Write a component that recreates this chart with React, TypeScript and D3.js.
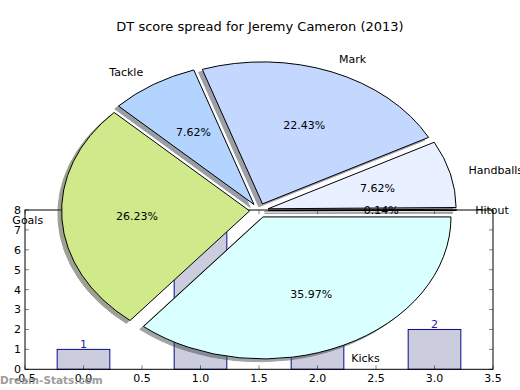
import React from 'react';
import * as d3 from 'd3';

// pie: DT score share per stat (counter-clockwise from 3 o'clock)
const sliceNames = ['Hitout', 'Handballs', 'Mark', 'Tackle', 'Goals', 'Kicks'];
const sliceShares = [0.14, 7.62, 22.43, 7.62, 26.23, 35.97];
const sliceColors = ['#dcdcdc', '#e9f0ff', '#c4d7ff', '#b3d4ff', '#d0e98b', '#d9ffff'];

// bars behind the pie
const barPositions = [0, 1, 2, 3];
const barCounts = [1, 8, 5, 2];

const xTicks = [-0.5, 0, 0.5, 1, 1.5, 2, 2.5, 3, 3.5];
const yTicks = [0, 1, 2, 3, 4, 5, 6, 7, 8];

const W = 520;
const H = 390;
const font = '"DejaVu Sans", Verdana, sans-serif';

export default function App() {
  const plot = { left: 25, right: 493, top: 210, bottom: 369.3 };
  const x = d3.scaleLinear().domain([-0.5, 3.5]).range([plot.left, plot.right]);
  const y = d3.scaleLinear().domain([0, 8]).range([plot.bottom, plot.top]);
  const barWidth = 0.45;

  // pie drawn as an ellipse (non-equal aspect)
  const cx = 259, cy = 210.5, rx = 188, ry = 142;
  const explode = 0.05;
  const R = 100;
  const pie = d3.pie<number>().sort(null).value(d => d)
    .startAngle(Math.PI / 2).endAngle(Math.PI / 2 - 2 * Math.PI);
  const arcs = pie(sliceShares);
  const arc = d3.arc<d3.PieArcDatum<number>>().innerRadius(0).outerRadius(R);
  const total = d3.sum(sliceShares);

  const wedges = arcs.map((a, i) => {
    const theta = Math.PI / 2 - (a.startAngle + a.endAngle) / 2;
    const c = Math.cos(theta), s = Math.sin(theta);
    const ox = cx + explode * rx * c;
    const oy = cy - explode * ry * s;
    const shade = d3.rgb(sliceColors[i]);
    const shadow = d3.rgb(shade.r * 0.3, shade.g * 0.3, shade.b * 0.3).toString();
    return {
      path: arc(a) as string,
      ox, oy, c, s, shadow,
      color: sliceColors[i],
      name: sliceNames[i],
      pct: (100 * a.value / total).toFixed(2) + '%',
    };
  });

  return (
    <svg width={W} height={H} style={{ position: 'absolute', left: 0, top: 0, background: '#fff' }}
      fontFamily={font}>
      <rect width={W} height={H} fill="#fff" />

      {/* bars */}
      {barPositions.map((p, i) => (
        <rect key={'b' + i} x={x(p - barWidth / 2)} y={y(barCounts[i])}
          width={x(p + barWidth / 2) - x(p - barWidth / 2)} height={plot.bottom - y(barCounts[i])}
          fill="#ccccdf" stroke="#0a0a8c" strokeWidth={1} />
      ))}
      {barPositions.map((p, i) => (
        <text key={'bl' + i} x={x(p)} y={y(barCounts[i]) - 1} textAnchor="middle"
          fontSize={11} fill="#2020a8">{barCounts[i]}</text>
      ))}

      {/* frame + ticks */}
      <rect x={plot.left} y={plot.top} width={plot.right - plot.left} height={plot.bottom - plot.top}
        fill="none" stroke="#000" strokeWidth={1} />
      {xTicks.map(t => (
        <g key={'xt' + t}>
          <line x1={x(t)} x2={x(t)} y1={plot.bottom} y2={plot.bottom - 4} stroke="#000" strokeWidth={0.5} />
          <line x1={x(t)} x2={x(t)} y1={plot.top} y2={plot.top + 4} stroke="#000" strokeWidth={0.5} />
          <text x={x(t)} y={plot.bottom + 13} textAnchor="middle" fontSize={11} fill="#000">{t.toFixed(1)}</text>
        </g>
      ))}
      {yTicks.map(t => (
        <g key={'yt' + t}>
          <line x1={plot.left} x2={plot.left + 4} y1={y(t)} y2={y(t)} stroke="#000" strokeWidth={0.5} />
          <line x1={plot.right} x2={plot.right - 4} y1={y(t)} y2={y(t)} stroke="#000" strokeWidth={0.5} />
          <text x={plot.left - 4} y={y(t)} dy="0.35em" textAnchor="end" fontSize={11} fill="#000">{t}</text>
        </g>
      ))}

      {/* pie shadows */}
      {wedges.map((w, i) => (
        <path key={'s' + i} d={w.path}
          transform={`translate(${w.ox - 0.02 * rx},${w.oy + 0.02 * ry}) scale(${rx / R},${ry / R})`}
          fill={w.shadow} stroke={w.shadow} strokeWidth={1} opacity={0.5}
          vectorEffect="non-scaling-stroke" />
      ))}
      {/* pie wedges */}
      {wedges.map((w, i) => (
        <path key={'w' + i} d={w.path}
          transform={`translate(${w.ox},${w.oy}) scale(${rx / R},${ry / R})`}
          fill={w.color} stroke="#000" strokeWidth={1} vectorEffect="non-scaling-stroke" />
      ))}
      {wedges.map((w, i) => (
        <text key={'l' + i} x={w.ox + 1.1 * rx * w.c} y={w.oy - 1.1 * ry * w.s} dy="0.35em"
          textAnchor={w.c > 0 ? 'start' : 'end'} fontSize={11} fill="#000">{w.name}</text>
      ))}
      {wedges.map((w, i) => (
        <text key={'p' + i} x={w.ox + 0.6 * rx * w.c} y={w.oy - 0.6 * ry * w.s} dy="0.35em"
          textAnchor="middle" fontSize={11} fill="#000">{w.pct}</text>
      ))}

      <text x={W / 2} y={31} textAnchor="middle" fontSize={13} fill="#000">
        DT score spread for Jeremy Cameron (2013)
      </text>

      <text x={0} y={384} fontSize={10.5} fontWeight="bold" fill="#8c8c8c" opacity={0.85}>Dream-Stats.com</text>
    </svg>
  );
}
